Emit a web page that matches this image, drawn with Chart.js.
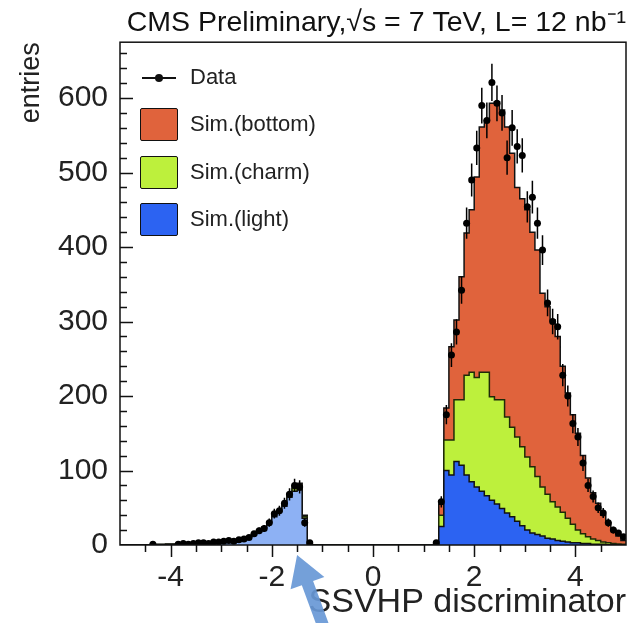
<!DOCTYPE html>
<html lang="en">
<head>
<meta charset="UTF-8">
<title>SSVHP discriminator</title>
<script src="https://cdn.jsdelivr.net/npm/chart.js"></script>
<style>
  html, body { margin: 0; padding: 0; background: #fff; }
  #wrap { position: relative; width: 630px; height: 623px; }
  #legend { position: absolute; left: 0; top: 0; font-family: "Liberation Sans", Arial, sans-serif; font-size: 22px; color: #222; }
  .row { position: absolute; left: 140px; height: 34px; display: flex; align-items: center; white-space: nowrap; }
  .sym { width: 38px; height: 33px; box-sizing: border-box; position: relative; }
  .box { border: 1.5px solid #111; border-radius: 2px; }
  .mk::before { content: ""; position: absolute; left: 2px; right: 2px; top: 16px; height: 2px; background: #111; }
  .mk::after { content: ""; position: absolute; left: 15px; top: 13px; width: 8px; height: 8px; border-radius: 50%; background: #111; }
  .txt { margin-left: 12px; }
</style>
</head>
<body>
<div id="wrap">
  <canvas id="chart" width="630" height="623"></canvas>
  <div id="legend"></div>
</div>
<script>
// histogram: 100 bins of width 0.1 from -5 to 5 (index i -> lower edge -5 + 0.1*i)
const nBins = 100;
const binLow = [];
for (let i = 0; i < nBins; i++) binLow.push(Math.round((-5 + i * 0.1) * 10) / 10);

// simulated light-flavour jets
const simLight = [
  0.2, 0.3, 0.3, 0.4, 0.5, 0.5, 0.6, 0.7, 0.8, 0.9,
  1.0, 1.2, 1.4, 1.6, 1.8, 2.0, 2.3, 2.6, 3.0, 3.4,
  4, 5, 5.5, 6.5, 7.5, 10, 14, 18, 23, 30,
  38, 45, 52, 64, 72, 74, 36, 1, 0, 0,
  0, 0, 0, 0, 0, 0, 0, 0, 0, 0,
  0, 0, 0, 0, 0, 0, 0, 0, 0, 0,
  0, 0, 0, 25, 100, 94, 112, 107, 94, 85,
  78, 72, 66, 60, 55, 49, 43, 38, 32, 26,
  20, 16, 14, 12, 9, 8, 6, 5, 4, 3,
  3, 2, 2, 1, 1, 1, 0.5, 0.3, 0.2, 0.1
];
// simulated charm jets
const simCharm = [
  0, 0, 0, 0, 0, 0, 0, 0, 0, 0,
  0, 0, 0, 0, 0, 0, 0, 0, 0, 0,
  0, 0, 0, 0, 0, 0.3, 0.5, 0.6, 0.8, 1,
  1, 1, 2, 3, 4, 5, 2, 0, 0, 0,
  0, 0, 0, 0, 0, 0, 0, 0, 0, 0,
  0, 0, 0, 0, 0, 0, 0, 0, 0, 0,
  0, 0, 0, 15, 41, 47, 83, 88, 134, 147,
  147, 160, 166, 139, 140, 146, 129, 120, 113, 106,
  98, 89, 78, 66, 59, 50, 45, 39, 32, 25,
  17, 13, 9, 7, 5, 3, 2.5, 1.7, 1, 0.9
];
// simulated bottom jets
const simBottom = [
  0, 0, 0, 0, 0, 0, 0, 0, 0, 0,
  0, 0, 0, 0, 0, 0, 0, 0, 0, 0,
  0, 0, 0, 0, 0, 0, 0, 0, 0, 0,
  0, 0, 1, 2, 3, 4, 2, 0, 0, 0,
  0, 0, 0, 0, 0, 0, 0, 0, 0, 0,
  0, 0, 0, 0, 0, 0, 0, 0, 0, 0,
  0, 0, 0, 15, 43, 125, 107, 165, 191, 218,
  269, 329, 338, 394, 400, 389, 389, 368, 335, 333,
  332, 315, 304, 260, 252, 244, 229, 196, 168, 147,
  130, 105, 79, 62, 50, 36, 27, 18, 11, 5
];
// data counts and their errors
const dataCounts = [
  null, null, null, null, null, null, 1, null, null, null,
  null, 1, 2, 1, 2, 3, 3, 2, 4, 4,
  5, 6, 5, 7, 8, 10, 15, 19, 22, 30,
  42, 46, 56, 68, 80, 78, 30, 3, null, null,
  null, null, null, null, null, null, null, null, null, null,
  null, null, null, null, null, null, null, null, null, null,
  null, null, 3, 58, 175, 255, 286, 342, 432, 490,
  533, 590, 570, 621, 593, 580, 520, 560, 535, 523,
  454, 467, 432, 396, 325, 300, 293, 228, 200, 163,
  145, 110, 80, 65, 50, 43, 30, 20, 16, 11
];
const dataErr = [
  null, null, null, null, null, null, 1, null, null, null,
  null, 1, 1.4, 1, 1.4, 1.7, 1.7, 1.4, 2, 2,
  2.2, 2.4, 2.2, 2.6, 2.8, 3.2, 3.9, 4.4, 4.7, 5.5,
  6.5, 6.8, 7.5, 8.2, 8.9, 8.8, 5.5, 1.7, null, null,
  null, null, null, null, null, null, null, null, null, null,
  null, null, null, null, null, null, null, null, null, null,
  null, null, 1.7, 7.6, 13, 16, 17, 18, 21, 22,
  23, 24, 24, 25, 24, 24, 23, 24, 23, 23,
  21, 22, 21, 20, 18, 17, 17, 15, 14, 13,
  12, 10.5, 9, 8, 7, 6.6, 5.5, 4.5, 4, 3.3
];

const xTicks = [-4, -2, 0, 2, 4];
const yTicks = [0, 100, 200, 300, 400, 500, 600];

const colBottom = '#e0633c';
const colCharm = '#bdf03c';
const colLight = '#2c63f2';
const colLightNeg = '#8db1f4';
const fontFam = '"Liberation Sans", Arial, Helvetica, sans-serif';

function histPoints(vals) {
  const pts = binLow.map((x, i) => ({x: x, y: vals[i]}));
  pts.push({x: 5, y: vals[nBins - 1]});  // close last bin
  return pts;
}

const decor = {
  id: 'decor',
  afterDatasetsDraw(chart) {
    const {ctx, scales: {x, y}} = chart;
    ctx.save();
    ctx.strokeStyle = '#000';
    ctx.lineWidth = 1.5;
    dataCounts.forEach((n, i) => {
      if (n === null) return;
      const e = dataErr[i];
      const cx = x.getPixelForValue(binLow[i] + 0.05);
      const py = y.getPixelForValue(n);
      ctx.beginPath();
      ctx.moveTo(cx, y.getPixelForValue(n - e));
      ctx.lineTo(cx, y.getPixelForValue(n + e));
      ctx.moveTo(x.getPixelForValue(binLow[i]), py);
      ctx.lineTo(x.getPixelForValue(binLow[i] + 0.1), py);
      ctx.stroke();
    });
    ctx.restore();
  },
  afterDraw(chart) {
    const {ctx, chartArea: a, scales: {x, y}} = chart;
    ctx.save();
    ctx.strokeStyle = '#111';
    ctx.lineWidth = 1.5;
    ctx.strokeRect(a.left, a.top, a.right - a.left, a.bottom - a.top);
    // y ticks (inside), minor every 20
    ctx.beginPath();
    for (let v = 20; v < 675; v += 20) {
      const py = Math.round(y.getPixelForValue(v)) + 0.5;
      const len = v % 100 === 0 ? 13 : 7;
      ctx.moveTo(a.left, py);
      ctx.lineTo(a.left + len, py);
    }
    // x ticks (below axis), minor every 0.5
    for (let k = -9; k <= 9; k++) {
      const px = Math.round(x.getPixelForValue(k * 0.5)) + 0.5;
      const len = k % 4 === 0 ? 12 : 7;
      ctx.moveTo(px, a.bottom);
      ctx.lineTo(px, a.bottom + len);
    }
    ctx.stroke();

    // arrow pointing at the negative-tag peak
    const tx = x.getPixelForValue(-1.5), ty = a.bottom + 10;
    const dx = 25, dy = 68, L = Math.hypot(dx, dy);
    const ux = -dx / L, uy = -dy / L;   // direction towards tip
    const nx = -uy, ny = ux;
    const bx = tx - ux * 30, by = ty - uy * 30;
    const ex = tx - ux * 110, ey = ty - uy * 110;
    ctx.fillStyle = 'rgba(104,152,214,0.92)';
    ctx.beginPath();
    ctx.moveTo(tx, ty);
    ctx.lineTo(bx + nx * 18, by + ny * 18);
    ctx.lineTo(bx + nx * 6, by + ny * 6);
    ctx.lineTo(ex + nx * 6, ey + ny * 6);
    ctx.lineTo(ex - nx * 6, ey - ny * 6);
    ctx.lineTo(bx - nx * 6, by - ny * 6);
    ctx.lineTo(bx - nx * 18, by - ny * 18);
    ctx.closePath();
    ctx.fill();
    ctx.restore();
  }
};

Chart.defaults.font.family = fontFam;
Chart.defaults.color = '#222';

const chart = new Chart(document.getElementById('chart'), {
  type: 'line',
  data: {
    datasets: [
      {
        label: 'Data',
        data: binLow.map((x, i) => ({x: x + 0.05, y: dataCounts[i]})),
        stack: 'data',
        showLine: false,
        pointRadius: 3.5,
        pointBackgroundColor: '#000',
        pointBorderWidth: 0,
        fill: false
      },
      {
        label: 'Sim.(light)',
        data: histPoints(simLight),
        stack: 'sim',
        stepped: 'before',
        pointRadius: 0,
        borderColor: '#111',
        borderWidth: 1.5,
        backgroundColor: colLight,
        fill: 'origin',
        segment: { backgroundColor: c => c.p0.parsed.x < 0 ? colLightNeg : undefined }
      },
      {
        label: 'Sim.(charm)',
        data: histPoints(simCharm),
        stack: 'sim',
        stepped: 'before',
        pointRadius: 0,
        borderColor: '#1e2a08',
        borderWidth: 1.5,
        backgroundColor: colCharm,
        fill: '-1'
      },
      {
        label: 'Sim.(bottom)',
        data: histPoints(simBottom),
        stack: 'sim',
        stepped: 'before',
        pointRadius: 0,
        borderColor: '#111',
        borderWidth: 1.5,
        backgroundColor: colBottom,
        fill: '-1'
      }
    ]
  },
  options: {
    responsive: false,
    animation: false,
    events: [],
    layout: { padding: { right: 4 } },
    plugins: {
      legend: { display: false },
      tooltip: { enabled: false },
      title: {
        display: true,
        text: 'CMS Preliminary,√s = 7 TeV, L= 12 nb⁻¹',
        align: 'end',
        color: '#111',
        font: { size: 28.5, weight: 'normal' },
        padding: { top: 6, bottom: 2 }
      }
    },
    scales: {
      x: {
        type: 'linear',
        min: -5,
        max: 5,
        afterFit: s => { s.height = 78; },
        afterBuildTicks: s => { s.ticks = xTicks.map(v => ({value: v})); },
        grid: { display: false, drawTicks: false },
        border: { display: false },
        ticks: { font: { size: 30 }, padding: 15, maxRotation: 0 },
        title: {
          display: true,
          text: 'SSVHP discriminator',
          align: 'end',
          font: { size: 34 },
          padding: { top: 0, bottom: 0 }
        }
      },
      y: {
        type: 'linear',
        stacked: true,
        min: 0,
        max: 675,
        afterFit: s => { s.width = 120; },
        afterBuildTicks: s => { s.ticks = yTicks.map(v => ({value: v})); },
        grid: { display: false, drawTicks: false },
        border: { display: false },
        ticks: { font: { size: 30 }, padding: 12 },
        title: {
          display: true,
          text: 'entries',
          align: 'end',
          font: { size: 27 },
          padding: { top: 15 }
        }
      }
    }
  },
  plugins: [decor]
});

// legend: Data, then the simulated stack from top to bottom
const legendRows = [
  { label: 'Data', top: 60, marker: true },
  { label: 'Sim.(bottom)', top: 107, color: colBottom },
  { label: 'Sim.(charm)', top: 155, color: colCharm },
  { label: 'Sim.(light)', top: 202, color: colLight }
];
const legendEl = document.getElementById('legend');
legendRows.forEach(r => {
  const row = document.createElement('div');
  row.className = 'row';
  row.style.top = r.top + 'px';
  const sym = document.createElement('span');
  sym.className = r.marker ? 'sym mk' : 'sym box';
  if (!r.marker) sym.style.background = r.color;
  const txt = document.createElement('span');
  txt.className = 'txt';
  txt.textContent = r.label;
  row.appendChild(sym);
  row.appendChild(txt);
  legendEl.appendChild(row);
});
</script>
</body>
</html>
